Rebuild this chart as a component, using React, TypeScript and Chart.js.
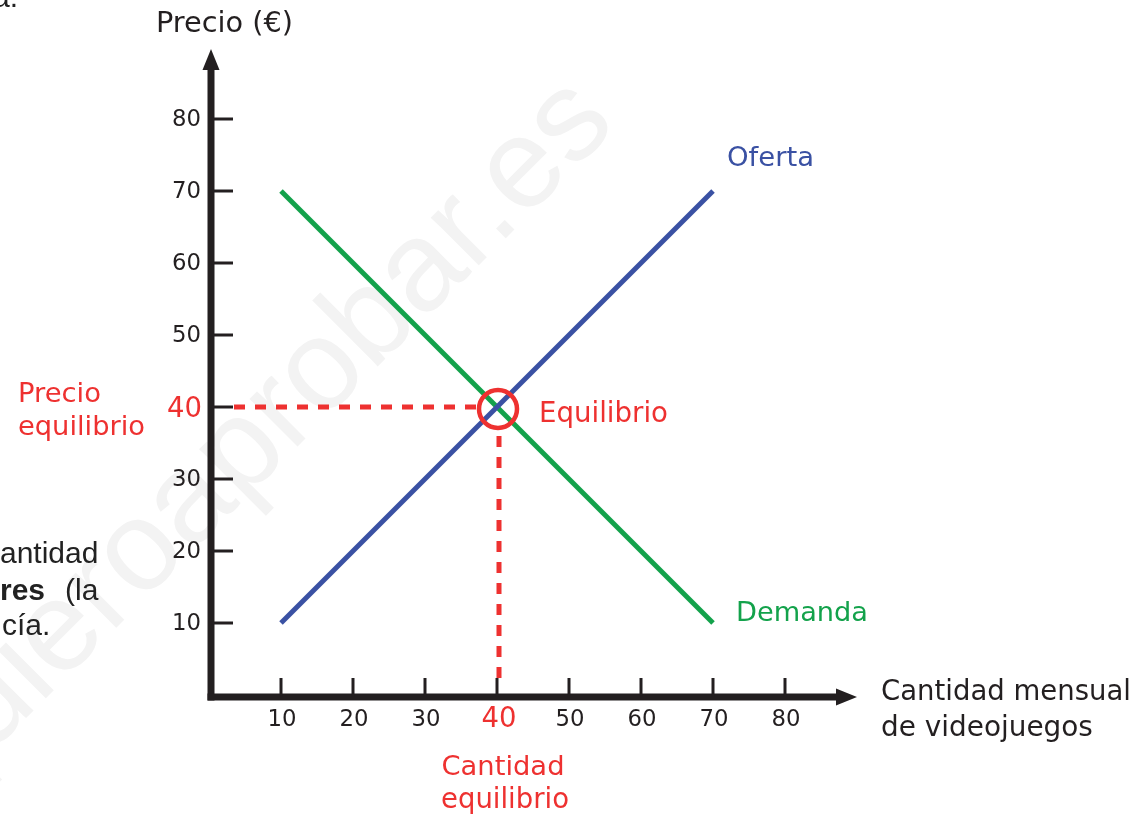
import React, { useEffect, useRef } from "react";
import { Chart, registerables } from "chart.js";

Chart.register(...registerables);

// ---- data ----
const supplyQuantity = [10, 70];
const supplyPrice = [10, 70];
const demandQuantity = [10, 70];
const demandPrice = [70, 10];
const xTickValues = [10, 20, 30, 40, 50, 60, 70, 80];
const yTickValues = [10, 20, 30, 40, 50, 60, 70, 80];
const equilibriumQuantity = 40;
const equilibriumPrice = 40;
const axisMax = 90;

// ---- styles ----
const BLACK = "#231f20";
const BLUE = "#3a51a3";
const GREEN = "#13a24b";
const RED = "#ee3130";
const FONT = '"DejaVu Sans", Verdana, sans-serif';
const PAGE_FONT = '"Liberation Sans", Arial, sans-serif';

// choose a font size so that `text` is `target` px wide
function fitFont(ctx: CanvasRenderingContext2D, text: string, target: number, family: string) {
  ctx.font = `20px ${family}`;
  const w = ctx.measureText(text).width || 1;
  const size = (20 * target) / w;
  ctx.font = `${size.toFixed(2)}px ${family}`;
  return size;
}

const econPlugin = {
  id: "econPlugin",
  beforeDraw(chart: any) {
    const ctx = chart.ctx as CanvasRenderingContext2D;
    const xs = chart.scales.x;
    const ys = chart.scales.y;
    ctx.save();
    ctx.fillStyle = "#ffffff";
    ctx.fillRect(0, 0, chart.width, chart.height);

    // watermark
    ctx.save();
    ctx.translate(-61, 805);
    ctx.rotate(-Math.PI / 4);
    ctx.font = `128px ${PAGE_FONT}`;
    ctx.fillStyle = "#f3f3f3";
    ctx.textBaseline = "alphabetic";
    ctx.textAlign = "left";
    ctx.fillText("quieroaprobar.es", 0, 0);
    ctx.restore();

    // fragments of the surrounding page text
    ctx.fillStyle = "#222222";
    ctx.textAlign = "left";
    ctx.textBaseline = "alphabetic";
    ctx.font = `30px ${PAGE_FONT}`;
    ctx.fillText("a.", -7, 7);
    ctx.fillText("antidad", 0, 563);
    ctx.font = `bold 30px ${PAGE_FONT}`;
    ctx.fillText("res", 0, 600);
    ctx.font = `30px ${PAGE_FONT}`;
    ctx.fillText("(la", 65, 600);
    ctx.fillText("cía.", 2, 635);

    // axes
    const ax = xs.getPixelForValue(0) + 2;
    const ay = ys.getPixelForValue(0) + 2;
    const xEnd = xs.getPixelForValue(axisMax);
    const yEnd = ys.getPixelForValue(axisMax);
    ctx.strokeStyle = BLACK;
    ctx.fillStyle = BLACK;
    ctx.lineCap = "butt";
    ctx.lineWidth = 7;
    ctx.beginPath();
    ctx.moveTo(ax, ay + 3.5);
    ctx.lineTo(ax, yEnd + 20);
    ctx.stroke();
    ctx.beginPath();
    ctx.moveTo(ax - 3.5, ay);
    ctx.lineTo(xEnd - 18, ay);
    ctx.stroke();
    // arrowheads
    ctx.beginPath();
    ctx.moveTo(ax, yEnd + 2);
    ctx.lineTo(ax - 8.5, yEnd + 23);
    ctx.lineTo(ax + 8.5, yEnd + 23);
    ctx.closePath();
    ctx.fill();
    ctx.beginPath();
    ctx.moveTo(xEnd, ay);
    ctx.lineTo(xEnd - 21, ay - 8.5);
    ctx.lineTo(xEnd - 21, ay + 8.5);
    ctx.closePath();
    ctx.fill();

    // ticks
    ctx.lineWidth = 3;
    yTickValues.forEach((v) => {
      const py = ys.getPixelForValue(v);
      ctx.beginPath();
      ctx.moveTo(ax, py);
      ctx.lineTo(ax + 22, py);
      ctx.stroke();
    });
    xTickValues.forEach((v) => {
      const px = xs.getPixelForValue(v);
      ctx.beginPath();
      ctx.moveTo(px, ay);
      ctx.lineTo(px, ay - 19);
      ctx.stroke();
    });

    // tick label sizes
    const tickSize = fitFont(ctx, "80", 29, FONT);
    const bigSize = fitFont(ctx, "40", 35, FONT);

    ctx.textBaseline = "middle";
    ctx.textAlign = "right";
    yTickValues.forEach((v) => {
      const py = ys.getPixelForValue(v);
      if (v === equilibriumPrice) {
        ctx.fillStyle = RED;
        ctx.font = `${bigSize.toFixed(2)}px ${FONT}`;
        ctx.fillText(String(v), ax - 9, py + 3);
      } else {
        ctx.fillStyle = BLACK;
        ctx.font = `${tickSize.toFixed(2)}px ${FONT}`;
        ctx.fillText(String(v), ax - 10, py + 1);
      }
    });
    ctx.textAlign = "center";
    xTickValues.forEach((v) => {
      const px = xs.getPixelForValue(v);
      if (v === equilibriumQuantity) {
        ctx.fillStyle = RED;
        ctx.font = `${bigSize.toFixed(2)}px ${FONT}`;
        ctx.fillText(String(v), px + 2, ay + 23);
      } else {
        ctx.fillStyle = BLACK;
        ctx.font = `${tickSize.toFixed(2)}px ${FONT}`;
        ctx.fillText(String(v), px + 1, ay + 23);
      }
    });

    // dashed equilibrium guides
    const cx = xs.getPixelForValue(equilibriumQuantity);
    const cy = ys.getPixelForValue(equilibriumPrice);
    ctx.strokeStyle = RED;
    ctx.lineWidth = 5;
    ctx.setLineDash([11, 10]);
    ctx.beginPath();
    ctx.moveTo(ax + 23, cy);
    ctx.lineTo(cx - 19, cy);
    ctx.stroke();
    ctx.beginPath();
    ctx.moveTo(cx + 2, ay - 19);
    ctx.lineTo(cx + 2, cy + 21);
    ctx.stroke();
    ctx.setLineDash([]);
    ctx.restore();
  },
  afterDatasetsDraw(chart: any) {
    const ctx = chart.ctx as CanvasRenderingContext2D;
    const xs = chart.scales.x;
    const ys = chart.scales.y;
    const cx = xs.getPixelForValue(equilibriumQuantity);
    const cy = ys.getPixelForValue(equilibriumPrice);
    ctx.save();
    ctx.strokeStyle = RED;
    ctx.lineWidth = 4.5;
    ctx.beginPath();
    ctx.arc(cx + 1, cy + 2, 19, 0, Math.PI * 2);
    ctx.stroke();

    ctx.textBaseline = "alphabetic";
    ctx.textAlign = "left";
    // axis titles
    ctx.fillStyle = BLACK;
    fitFont(ctx, "Precio (€)", 137, FONT);
    ctx.fillText("Precio (€)", 156, 32);
    fitFont(ctx, "Cantidad mensual", 250, FONT);
    ctx.fillText("Cantidad mensual", 881, 700);
    fitFont(ctx, "de videojuegos", 212, FONT);
    ctx.fillText("de videojuegos", 881, 736);

    // curve labels
    const sEnd = supplyQuantity.length - 1;
    ctx.fillStyle = BLUE;
    fitFont(ctx, "Oferta", 87, FONT);
    ctx.fillText("Oferta", xs.getPixelForValue(supplyQuantity[sEnd]) + 14, ys.getPixelForValue(supplyPrice[sEnd]) - 25);
    const dEnd = demandQuantity.length - 1;
    ctx.fillStyle = GREEN;
    fitFont(ctx, "Demanda", 132, FONT);
    ctx.fillText("Demanda", xs.getPixelForValue(demandQuantity[dEnd]) + 23, ys.getPixelForValue(demandPrice[dEnd]) - 2);

    // equilibrium labels
    ctx.fillStyle = RED;
    fitFont(ctx, "Equilibrio", 129, FONT);
    ctx.fillText("Equilibrio", cx + 42, cy + 15);
    fitFont(ctx, "Precio", 83, FONT);
    ctx.fillText("Precio", 18, 402);
    fitFont(ctx, "equilibrio", 127, FONT);
    ctx.fillText("equilibrio", 18, 435);
    ctx.textAlign = "center";
    fitFont(ctx, "Cantidad", 123, FONT);
    ctx.fillText("Cantidad", cx + 6, 775);
    fitFont(ctx, "equilibrio", 128, FONT);
    ctx.fillText("equilibrio", cx + 8, 808);
    ctx.restore();
  },
};

export default function App() {
  const canvasRef = useRef<HTMLCanvasElement | null>(null);

  useEffect(() => {
    if (!canvasRef.current) return;
    const chart = new Chart(canvasRef.current, {
      type: "scatter",
      data: {
        datasets: [
          {
            label: "Oferta",
            data: supplyQuantity.map((q, i) => ({ x: q, y: supplyPrice[i] })),
            borderColor: BLUE,
            backgroundColor: BLUE,
            borderWidth: 5,
            showLine: true,
            pointRadius: 0,
            fill: false,
          },
          {
            label: "Demanda",
            data: demandQuantity.map((q, i) => ({ x: q, y: demandPrice[i] })),
            borderColor: GREEN,
            backgroundColor: GREEN,
            borderWidth: 5,
            showLine: true,
            pointRadius: 0,
            fill: false,
          },
        ],
      },
      options: {
        responsive: false,
        animation: false,
        devicePixelRatio: 1,
        events: [],
        layout: { padding: { left: 209, right: 291, top: 47, bottom: 121 } },
        plugins: { legend: { display: false }, tooltip: { enabled: false } },
        scales: {
          x: { type: "linear", min: 0, max: axisMax, display: false },
          y: { type: "linear", min: 0, max: axisMax, display: false },
        },
      },
      plugins: [econPlugin],
    });
    return () => chart.destroy();
  }, []);

  return (
    <div style={{ position: "absolute", left: 0, top: 0, width: 1148, height: 816 }}>
      <canvas ref={canvasRef} width={1148} height={816} style={{ display: "block" }} />
    </div>
  );
}
